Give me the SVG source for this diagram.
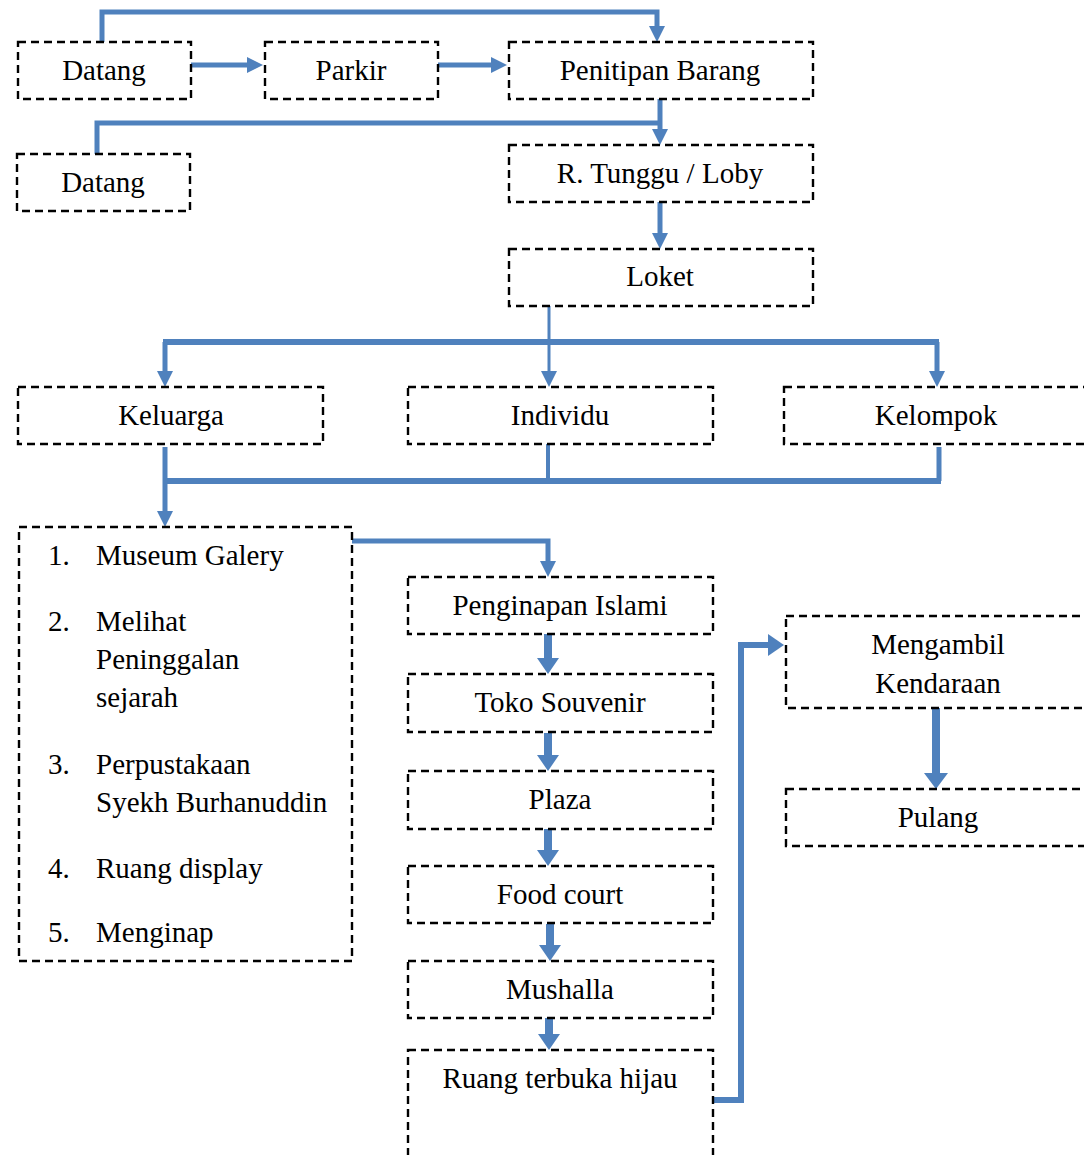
<svg xmlns="http://www.w3.org/2000/svg" width="1084" height="1155" viewBox="0 0 1084 1155">
  <style>
    .box { fill: #ffffff; stroke: #000000; stroke-width: 2.4; stroke-dasharray: 8 5; }
    .lbl { font-family: 'Liberation Serif', 'DejaVu Serif', serif; font-size: 29px; fill: #000000; }
    .c { text-anchor: middle; }
    .ln { fill: none; stroke: #4F81BD; stroke-width: 5; stroke-linejoin: miter; stroke-linecap: butt; }
    .blk { fill: none; stroke: #4F81BD; stroke-width: 8; stroke-linecap: butt; }
  </style>
  <defs>
    <marker id="head" viewBox="0 0 16 16" markerUnits="userSpaceOnUse" markerWidth="16" markerHeight="16" refX="0" refY="8" orient="auto">
      <path d="M0,0 L16,8 L0,16 z" fill="#4F81BD"/>
    </marker>
    <marker id="headWide" viewBox="0 0 16 22" markerUnits="userSpaceOnUse" markerWidth="16" markerHeight="22" refX="0" refY="11" orient="auto">
      <path d="M0,0 L16,11 L0,22 z" fill="#4F81BD"/>
    </marker>
    <marker id="headBig" viewBox="0 0 16 24" markerUnits="userSpaceOnUse" markerWidth="16" markerHeight="24" refX="0" refY="12" orient="auto">
      <path d="M0,0 L16,12 L0,24 z" fill="#4F81BD"/>
    </marker>
  </defs>

  <rect width="1084" height="1155" fill="#ffffff"/>

  <!-- connectors -->
  <g id="connectors">
    <path class="ln" d="M102,42 V12 H657 V26" marker-end="url(#head)"/>
    <path class="ln" d="M191,65 H247" marker-end="url(#head)"/>
    <path class="ln" d="M435,65 H491" marker-end="url(#head)"/>
    <path class="ln" d="M97,154 V123 H660"/>
    <path class="ln" d="M660,99 V129" marker-end="url(#head)"/>
    <path class="ln" d="M660,202 V233" marker-end="url(#head)"/>
    <!-- Loket split -->
    <path class="ln" d="M549,306 V371" style="stroke-width:3" marker-end="url(#head)"/>
    <path class="ln" d="M163,342 H939" style="stroke-width:6"/>
    <path class="ln" d="M165,342 V371" marker-end="url(#head)"/>
    <path class="ln" d="M937,342 V371" marker-end="url(#head)"/>
    <!-- merge to museum -->
    <path class="ln" d="M548,444 V481" style="stroke-width:4"/>
    <path class="ln" d="M939,447 V481"/>
    <path class="ln" d="M163,481 H941" style="stroke-width:6"/>
    <path class="ln" d="M165,447 V511" marker-end="url(#head)"/>
    <path class="ln" d="M352,541 H548 V561" marker-end="url(#head)"/>
    <!-- middle column -->
    <path class="blk" d="M548,634 V658" marker-end="url(#headWide)"/>
    <path class="blk" d="M548,733 V755" marker-end="url(#headWide)"/>
    <path class="blk" d="M548,829 V850" marker-end="url(#headWide)"/>
    <path class="blk" d="M550,924 V945" marker-end="url(#headWide)"/>
    <path class="blk" d="M549,1016 V1034" marker-end="url(#headWide)"/>
    <!-- exit -->
    <path class="ln" d="M713,1100 H741 V645 H768" style="stroke-width:6" marker-end="url(#headWide)"/>
    <path class="blk" d="M936,708 V773" marker-end="url(#headBig)"/>
  </g>

  <g id="nodes" font-family="'Liberation Serif', 'DejaVu Serif', serif">
  <g id="datang-1">
    <rect class="box" x="18" y="42" width="173" height="57"/>
    <text class="lbl c" x="104" y="80">Datang</text>
  </g>
  <g id="parkir">
    <rect class="box" x="265" y="42" width="173" height="57"/>
    <text class="lbl c" x="351" y="80">Parkir</text>
  </g>
  <g id="penitipan-barang">
    <rect class="box" x="509" y="42" width="304" height="57"/>
    <text class="lbl c" x="660" y="80">Penitipan Barang</text>
  </g>
  <g id="datang-2">
    <rect class="box" x="17" y="154" width="173" height="57"/>
    <text class="lbl c" x="103" y="192">Datang</text>
  </g>
  <g id="ruang-tunggu">
    <rect class="box" x="509" y="145" width="304" height="57"/>
    <text class="lbl c" x="660" y="183">R. Tunggu / Loby</text>
  </g>
  <g id="loket">
    <rect class="box" x="509" y="249" width="304" height="57"/>
    <text class="lbl c" x="660" y="286">Loket</text>
  </g>
  <g id="keluarga">
    <rect class="box" x="18" y="387" width="305" height="57"/>
    <text class="lbl c" x="171" y="425">Keluarga</text>
  </g>
  <g id="individu">
    <rect class="box" x="408" y="387" width="305" height="57"/>
    <text class="lbl c" x="560" y="425">Individu</text>
  </g>
  <g id="kelompok">
    <rect class="box" x="784" y="387" width="310" height="57"/>
    <text class="lbl c" x="936" y="425">Kelompok</text>
  </g>
  <g id="museum-list">
    <rect class="box" x="19" y="527" width="333" height="434"/>
    <text class="lbl" x="48" y="565">1.</text>
    <text class="lbl" x="96" y="565">Museum Galery</text>
    <text class="lbl" x="48" y="631">2.</text>
    <text class="lbl" x="96" y="631">Melihat</text>
    <text class="lbl" x="96" y="669">Peninggalan</text>
    <text class="lbl" x="96" y="707">sejarah</text>
    <text class="lbl" x="48" y="774">3.</text>
    <text class="lbl" x="96" y="774">Perpustakaan</text>
    <text class="lbl" x="96" y="812">Syekh Burhanuddin</text>
    <text class="lbl" x="48" y="878">4.</text>
    <text class="lbl" x="96" y="878">Ruang display</text>
    <text class="lbl" x="48" y="942">5.</text>
    <text class="lbl" x="96" y="942">Menginap</text>
  </g>
  <g id="penginapan-islami">
    <rect class="box" x="408" y="577" width="305" height="57"/>
    <text class="lbl c" x="560" y="615">Penginapan Islami</text>
  </g>
  <g id="toko-souvenir">
    <rect class="box" x="408" y="674" width="305" height="58"/>
    <text class="lbl c" x="560" y="712">Toko Souvenir</text>
  </g>
  <g id="plaza">
    <rect class="box" x="408" y="771" width="305" height="58"/>
    <text class="lbl c" x="560" y="809">Plaza</text>
  </g>
  <g id="food-court">
    <rect class="box" x="408" y="866" width="305" height="57"/>
    <text class="lbl c" x="560" y="904">Food court</text>
  </g>
  <g id="mushalla">
    <rect class="box" x="408" y="961" width="305" height="57"/>
    <text class="lbl c" x="560" y="999">Mushalla</text>
  </g>
  <g id="ruang-terbuka-hijau">
    <rect class="box" x="408" y="1050" width="305" height="112"/>
    <text class="lbl c" x="560" y="1088">Ruang terbuka hijau</text>
  </g>
  <g id="mengambil-kendaraan">
    <rect class="box" x="786" y="616" width="310" height="92"/>
    <text class="lbl c" x="938" y="654">Mengambil</text>
    <text class="lbl c" x="938" y="693">Kendaraan</text>
  </g>
  <g id="pulang">
    <rect class="box" x="786" y="789" width="310" height="57"/>
    <text class="lbl c" x="938" y="827">Pulang</text>
  </g>
  </g>
</svg>
